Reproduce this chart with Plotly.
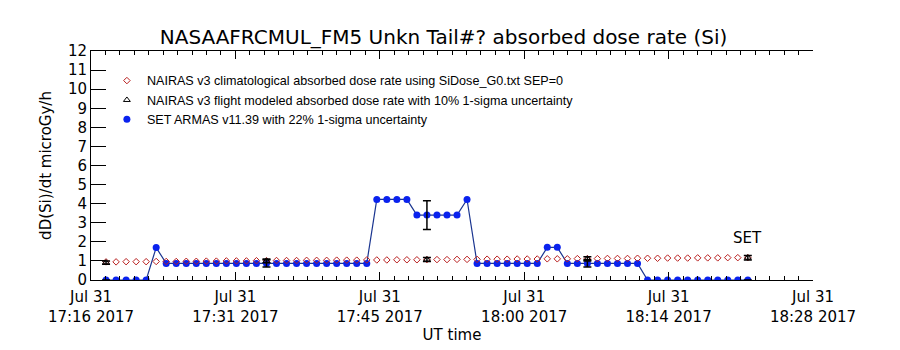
import pandas as pd
import plotly.graph_objects as go

# ---- data ----
times = pd.date_range("2017-07-31 17:18:20", periods=65, freq="min")

set_armas = [0, 0, 0, 0, 0,
             1.70,
             0.87, 0.87, 0.87, 0.87, 0.87, 0.87, 0.87, 0.87, 0.87, 0.87, 0.87,
             0.87, 0.87, 0.87, 0.87, 0.87, 0.87, 0.87, 0.87, 0.87, 0.87,
             4.22, 4.22, 4.22, 4.22,
             3.40, 3.40, 3.40, 3.40, 3.40,
             4.22,
             0.87, 0.87, 0.87, 0.87, 0.87, 0.87, 0.87,
             1.71, 1.71,
             0.87, 0.87, 0.87, 0.87, 0.87, 0.87, 0.87, 0.87,
             0, 0, 0, 0, 0, 0, 0, 0, 0, 0, 0]

nairas_clim = [0.95, 0.95, 0.96, 0.96, 0.96, 0.97, 0.97, 0.97, 0.98, 0.98,
               0.99, 0.99, 1.00, 1.00, 1.00, 1.01, 1.01, 1.02, 1.02, 1.02,
               1.03, 1.03, 1.03, 1.04, 1.04, 1.04, 1.05, 1.05, 1.05, 1.06,
               1.06, 1.06, 1.07, 1.07, 1.07, 1.08, 1.08, 1.08, 1.09, 1.09,
               1.09, 1.10, 1.10, 1.10, 1.11, 1.11, 1.11, 1.12, 1.12, 1.12,
               1.13, 1.13, 1.13, 1.14, 1.14, 1.14, 1.15, 1.15, 1.15, 1.16,
               1.16, 1.16, 1.17, 1.17, 1.17]

flight_idx = [0, 16, 32, 48, 64]
nairas_flight = [0.91, 1.00, 1.07, 1.11, 1.17]
flight_unc = 0.10
set_unc = 0.22

x_range = ["2017-07-31 17:16:50", "2017-07-31 18:28:50"]
tick_vals = ["2017-07-31 17:16:50", "2017-07-31 17:31:14", "2017-07-31 17:45:38",
             "2017-07-31 18:00:02", "2017-07-31 18:14:26", "2017-07-31 18:28:50"]
tick_text = ["Jul 31<br>17:16 2017", "Jul 31<br>17:31 2017", "Jul 31<br>17:45 2017",
             "Jul 31<br>18:00 2017", "Jul 31<br>18:14 2017", "Jul 31<br>18:28 2017"]

flight_times = [times[i] for i in flight_idx]
set_err_vals = [set_armas[i] for i in flight_idx]

blue = "#0a22ee"
navy = "#1a3590"
red = "#b81e1e"

fig = go.Figure()

fig.add_trace(go.Scatter(x=times, y=set_armas, mode="lines", line=dict(color=navy, width=1.2),
                         showlegend=False, hoverinfo="skip"))
fig.add_trace(go.Scatter(x=times, y=set_armas, mode="markers",
                         marker=dict(symbol="circle", size=7, color=blue),
                         name="SET ARMAS v11.39 with 22% 1-sigma uncertainty", legendrank=3))
fig.add_trace(go.Scatter(x=times, y=nairas_clim, mode="markers",
                         marker=dict(symbol="diamond-open", size=5, color=red, line=dict(width=1)),
                         name="NAIRAS v3 climatological absorbed dose rate using SiDose_G0.txt SEP=0",
                         legendrank=1))
fig.add_trace(go.Scatter(x=flight_times, y=set_err_vals, mode="markers",
                         marker=dict(size=1, color="black", opacity=0),
                         error_y=dict(type="data", array=[v * set_unc for v in set_err_vals],
                                      color="black", thickness=1.5, width=4),
                         showlegend=False, hoverinfo="skip"))
fig.add_trace(go.Scatter(x=flight_times, y=nairas_flight, mode="markers",
                         marker=dict(symbol="triangle-up-open", size=6, color="black", line=dict(width=1)),
                         error_y=dict(type="data", array=[v * flight_unc for v in nairas_flight],
                                      color="black", thickness=1.5, width=4),
                         name="NAIRAS v3 flight modeled absorbed dose rate with 10% 1-sigma uncertainty",
                         legendrank=2))

fig.add_annotation(x=times[-1], y=2.2, text="SET", showarrow=False,
                   font=dict(family="DejaVu Sans", size=15, color="black"))

axis_font = dict(family="DejaVu Sans", size=15, color="black")

fig.update_layout(
    width=900, height=350,
    margin=dict(l=91, r=87, t=51, b=70),
    paper_bgcolor="white", plot_bgcolor="white",
    title=dict(text="NASAAFRCMUL_FM5 Unkn Tail#? absorbed dose rate (Si)",
               x=0.4928, xanchor="center", xref="container",
               y=1 - 37 / 350, yanchor="middle", yref="container",
               font=dict(family="DejaVu Sans", size=20, color="black")),
    showlegend=True,
    legend=dict(x=0.022, y=0.935, xanchor="left", yanchor="top",
                bgcolor="rgba(0,0,0,0)", borderwidth=0,
                font=dict(family="Liberation Sans", size=12.6, color="black"),
                traceorder="normal"),
    xaxis=dict(type="date", range=x_range, tickmode="array", tickvals=tick_vals, ticktext=tick_text,
               ticks="inside", ticklen=8, tickcolor="black", showline=True, linecolor="black",
               linewidth=1, mirror="ticks", showgrid=False, zeroline=False, automargin=False,
               tickfont=axis_font, ticklabelstandoff=3,
               minor=dict(tick0="2017-07-31 17:16:50", dtick=86400, ticks="inside", ticklen=4,
                          tickcolor="black", showgrid=False),
               title=dict(text="UT time", font=axis_font, standoff=2)),
    yaxis=dict(range=[0, 12], dtick=1, tick0=0, ticks="inside", ticklen=15, tickcolor="black",
               showline=True, linecolor="black", linewidth=1, showgrid=False, zeroline=False,
               automargin=False, tickfont=axis_font,
               title=dict(text="dD(Si)/dt microGy/h", font=axis_font, standoff=12)),
    yaxis2=dict(range=[0, 12], dtick=0.5, tick0=0, overlaying="y", side="right", anchor="x",
                ticks="inside", ticklen=13, tickcolor="black", showticklabels=False,
                showline=True, linecolor="black", linewidth=1, showgrid=False, zeroline=False,
                automargin=False),
)

fig.write_html("out.html")
